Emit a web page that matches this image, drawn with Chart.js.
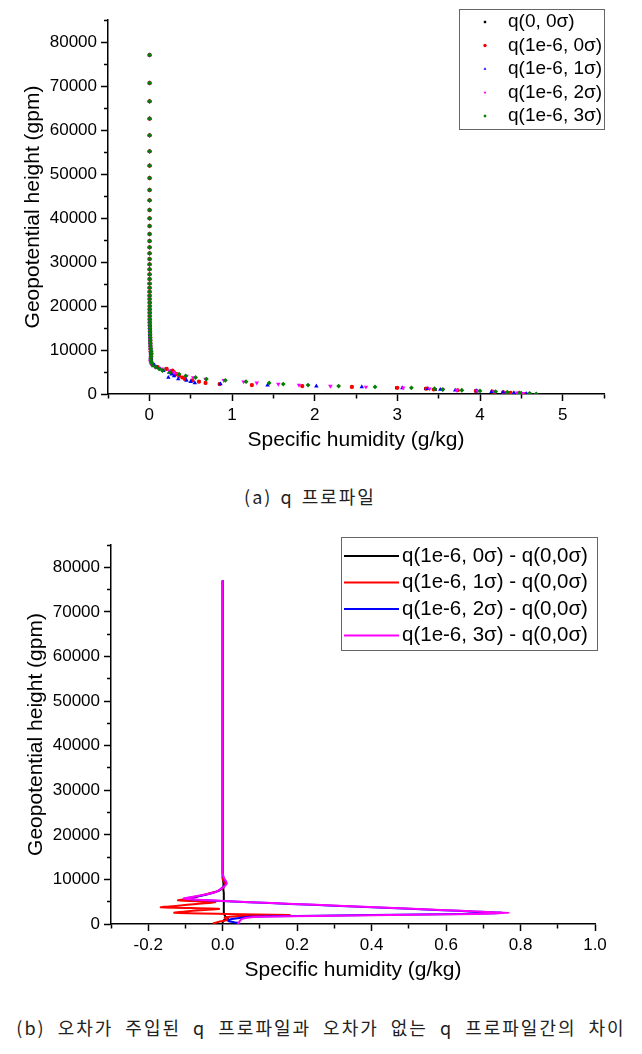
<!DOCTYPE html>
<html>
<head>
<meta charset="utf-8">
<script src="https://cdn.jsdelivr.net/npm/chart.js@4.4.1/dist/chart.umd.min.js"></script>
<style>
  body { margin: 0; background: #fff; }
  #page { position: relative; width: 642px; height: 1054px; overflow: hidden; background: #fff; }
  canvas { position: absolute; left: 0; }
  .cap { position: absolute; text-align: center; white-space: nowrap; color: #222;
         font-family: 'Noto Sans CJK KR', sans-serif; font-size: 18px; line-height: 20px; }
</style>
</head>
<body>
<div id="page">
  <canvas id="chartA" width="642" height="460" style="top:0;width:642px;height:460px"></canvas>
  <div class="cap" style="top:486px;left:0;width:620px;letter-spacing:2px;word-spacing:2px">(a) q 프로파일</div>
  <canvas id="chartB" width="642" height="460" style="top:530px;width:642px;height:460px"></canvas>
  <div class="cap" style="top:1017px;left:0;width:642px;letter-spacing:2px;word-spacing:6px">(b) 오차가 주입된 q 프로파일과 오차가 없는 q 프로파일간의 차이</div>
</div>
<script>
'use strict';

const FONT = "'Liberation Sans', Arial, sans-serif";

// geopotential height of each model level (gpm), top to bottom
const heights = [
  77050, 70680, 66520, 62570, 58800, 55160, 51890, 49090, 46360, 44020,
  41820, 39930, 38180, 36360, 34770, 33340, 31980, 30680, 29480, 28340,
  27210, 26140, 25100, 24150, 23250, 22400, 21600, 20800, 20000, 19250,
  18500, 17750, 17000, 16300, 15600, 14900, 14200, 13500, 12850, 12200,
  11550, 10900, 10300, 9700, 9100, 8550, 8000,
  7500, 7000, 6550, 6100, 5700, 5300, 4900, 4500, 4100, 3750,
  3400, 3100, 2800, 2520, 2260, 2020, 1800, 1600, 1400, 1200,
  1020, 850, 690, 540, 400, 270, 150, 40,
];

// (a) specific humidity profiles (g/kg)
const qRef = [
  0.003, 0.003, 0.003, 0.003, 0.003, 0.003, 0.003, 0.003, 0.003, 0.003,
  0.003, 0.003, 0.003, 0.003, 0.003, 0.003, 0.003, 0.003, 0.003, 0.003,
  0.003, 0.003, 0.003, 0.003, 0.003, 0.003, 0.003, 0.004, 0.004, 0.004,
  0.004, 0.004, 0.005, 0.005, 0.006, 0.007, 0.008, 0.009, 0.010, 0.011,
  0.012, 0.013, 0.014, 0.015, 0.016, 0.017, 0.018,
  0.02, 0.03, 0.05, 0.10, 0.20, 0.27, 0.30, 0.33, 0.36, 0.40,
  0.43, 0.52, 0.60, 0.68, 0.85, 1.24, 1.85, 2.45, 2.99, 3.34,
  3.46, 3.73, 3.95, 4.15, 4.28, 4.37, 4.47, 4.55,
];
const q0 = [
  0.003, 0.003, 0.003, 0.003, 0.003, 0.003, 0.003, 0.003, 0.003, 0.003,
  0.003, 0.003, 0.003, 0.003, 0.003, 0.003, 0.003, 0.003, 0.003, 0.003,
  0.003, 0.003, 0.003, 0.003, 0.003, 0.003, 0.003, 0.004, 0.004, 0.004,
  0.004, 0.004, 0.005, 0.005, 0.006, 0.007, 0.008, 0.009, 0.010, 0.011,
  0.012, 0.013, 0.014, 0.016, 0.018, 0.019, 0.020,
  0.02, 0.03, 0.05, 0.10, 0.21, 0.28, 0.30, 0.33, 0.36, 0.40,
  0.43, 0.52, 0.60, 0.68, 0.85, 1.24, 1.85, 2.45, 3.00, 3.35,
  3.44, 3.73, 3.95, 4.15, 4.28, 4.37, 4.47, 4.55,
];
const q1 = [
  0.003, 0.003, 0.003, 0.003, 0.003, 0.003, 0.003, 0.003, 0.003, 0.003,
  0.003, 0.003, 0.003, 0.003, 0.003, 0.003, 0.003, 0.003, 0.003, 0.003,
  0.003, 0.003, 0.003, 0.003, 0.003, 0.003, 0.003, 0.004, 0.004, 0.004,
  0.004, 0.004, 0.005, 0.005, 0.006, 0.007, 0.008, 0.009, 0.010, 0.011,
  0.012, 0.013, 0.014, 0.016, 0.018, 0.019, 0.020,
  0.02, 0.03, 0.06, 0.09, 0.13, 0.17, 0.24, 0.27, 0.30, 0.23,
  0.35, 0.45, 0.50, 0.55, 0.86, 1.43, 2.02, 2.57, 3.06, 3.37,
  3.52, 3.70, 3.96, 4.14, 4.28, 4.41, 4.50, 4.56,
];
const q2 = [
  0.003, 0.003, 0.003, 0.003, 0.003, 0.003, 0.003, 0.003, 0.003, 0.003,
  0.003, 0.003, 0.003, 0.003, 0.003, 0.003, 0.003, 0.003, 0.003, 0.003,
  0.003, 0.003, 0.003, 0.003, 0.003, 0.003, 0.003, 0.004, 0.004, 0.004,
  0.004, 0.004, 0.005, 0.005, 0.006, 0.007, 0.008, 0.009, 0.010, 0.011,
  0.012, 0.014, 0.017, 0.022, 0.026, 0.022, 0.016,
  0.01, 0.02, 0.03, 0.07, 0.15, 0.24, 0.30, 0.35, 0.45, 0.53,
  0.68, 0.90, 1.14, 1.30, 1.56, 1.81, 2.19, 2.62, 3.07, 3.39,
  3.55, 3.72, 3.97, 4.17, 4.32, 4.45, 4.52, 4.60,
];
const q3 = [
  0.003, 0.003, 0.003, 0.003, 0.003, 0.003, 0.003, 0.003, 0.003, 0.003,
  0.003, 0.003, 0.003, 0.003, 0.003, 0.003, 0.003, 0.003, 0.003, 0.003,
  0.003, 0.003, 0.003, 0.003, 0.003, 0.003, 0.003, 0.004, 0.004, 0.004,
  0.004, 0.004, 0.005, 0.005, 0.006, 0.007, 0.008, 0.009, 0.010, 0.011,
  0.012, 0.014, 0.017, 0.023, 0.027, 0.023, 0.016,
  0.02, 0.03, 0.04, 0.08, 0.12, 0.16, 0.25, 0.36, 0.44, 0.56,
  0.69, 0.92, 1.17, 1.45, 1.62, 1.92, 2.29, 2.73, 3.17, 3.45,
  3.55, 3.78, 4.00, 4.19, 4.33, 4.48, 4.60, 4.68,
];

// (b) perturbed minus reference profile (g/kg)
const d0 = [
  0, 0, 0, 0, 0, 0, 0, 0, 0, 0,
  0, 0, 0, 0, 0, 0, 0, 0, 0, 0,
  0, 0, 0, 0, 0, 0, 0, 0, 0, 0,
  0, 0, 0, 0, 0, 0, 0, 0, 0, 0,
  0, 0, 0, 0.001, 0.002, 0.002, 0.002,
  0.002, 0.003, 0.003, 0.003, 0.003, 0.003, 0.003, 0.003, 0.003, 0.003,
  0.003, 0.003, 0.003, 0.003, 0.004, 0.005, 0.006, 0.008, 0.015, 0.012,
  0.006, 0.003, 0.002, 0.001, 0, 0, 0, 0,
];
const d1 = [
  0, 0, 0, 0, 0, 0, 0, 0, 0, 0,
  0, 0, 0, 0, 0, 0, 0, 0, 0, 0,
  0, 0, 0, 0, 0, 0, 0, 0, 0, 0,
  0, 0, 0, 0, 0, 0, 0, 0, 0, 0,
  0, 0, 0, 0.002, 0.006, 0.004, 0,
  -0.01, -0.03, -0.05, -0.07, -0.09, -0.12, -0.02, -0.07, -0.12, -0.166,
  -0.01, -0.06, -0.10, -0.13, 0.006, 0.18, 0.06, 0.02, 0.005, 0.012,
  0.015, 0.01, 0, -0.008, -0.015, -0.02, -0.025, -0.025,
];
const d2 = [
  0, 0, 0, 0, 0, 0, 0, 0, 0, 0,
  0, 0, 0, 0, 0, 0, 0, 0, 0, 0,
  0, 0, 0, 0, 0, 0, 0, 0, 0, 0,
  0, 0, 0, 0, 0, 0, 0, 0, 0, 0,
  0, 0.001, 0.003, 0.007, 0.010, 0.005, -0.003,
  -0.01, -0.025, -0.045, -0.075, -0.10, -0.045, 0.07, 0.18, 0.30, 0.40,
  0.50, 0.59, 0.67, 0.75, 0.64, 0.40, 0.20, 0.07, 0.05, 0.03,
  0.02, 0.015, 0.015, 0.02, 0.03, 0.04, 0.045, 0.045,
];
const d3 = [
  0, 0, 0, 0, 0, 0, 0, 0, 0, 0,
  0, 0, 0, 0, 0, 0, 0, 0, 0, 0,
  0, 0, 0, 0, 0, 0, 0, 0, 0, 0,
  0, 0, 0, 0, 0, 0, 0, 0, 0, 0,
  0, 0.001, 0.003, 0.008, 0.011, 0.006, -0.003,
  -0.012, -0.025, -0.05, -0.08, -0.105, -0.04, 0.075, 0.19, 0.31, 0.41,
  0.51, 0.60, 0.68, 0.77, 0.68, 0.45, 0.25, 0.10, 0.065, 0.055,
  0.05, 0.048, 0.046, 0.045, 0.044, 0.043, 0.042, 0.04,
];

const labelsA = ['q(0, 0σ)', 'q(1e-6, 0σ)', 'q(1e-6, 1σ)', 'q(1e-6, 2σ)', 'q(1e-6, 3σ)'];
const labelsB = ['q(1e-6, 0σ) - q(0,0σ)', 'q(1e-6, 1σ) - q(0,0σ)', 'q(1e-6, 2σ) - q(0,0σ)', 'q(1e-6, 3σ) - q(0,0σ)'];

// tick labels that are printed
const heightLabels = [0, 10000, 20000, 30000, 40000, 50000, 60000, 70000, 80000];
const qLabelsA = [0, 1, 2, 3, 4, 5];
const qLabelsB = [-0.2, 0.0, 0.2, 0.4, 0.6, 0.8, 1.0];

const colorsA = ['#000000', '#ff0000', '#0000ff', '#ff00ff', '#008000'];
const colorsB = ['#000000', '#ff0000', '#0000ff', '#ff00ff'];
const stylesA = ['rect', 'circle', 'triangle', 'triangle', 'rectRot'];
const rotA = [0, 0, 0, 180, 0];
const radA = [2, 2.1, 2.6, 2.6, 2.4];

const isLabel = (list, v) => list.some(t => Math.abs(t - v) < 1e-6);

// legend drawn as a framed box inside the plot, like the original
const boxLegend = {
  id: 'boxLegend',
  afterDraw(chart, args, o) {
    const { ctx } = chart;
    ctx.save();
    ctx.strokeStyle = '#666';
    ctx.lineWidth = 1;
    ctx.strokeRect(o.x + 0.5, o.y + 0.5, o.w, o.h);
    ctx.font = o.font;
    ctx.textBaseline = 'middle';
    ctx.textAlign = 'left';
    chart.data.datasets.forEach((ds, i) => {
      const y = o.y + o.first + i * o.step;
      if (o.lines) {
        ctx.strokeStyle = ds.borderColor;
        ctx.lineWidth = 2;
        ctx.beginPath();
        ctx.moveTo(o.x + 3, y);
        ctx.lineTo(o.x + 3 + o.lineLen, y);
        ctx.stroke();
      } else {
        ctx.fillStyle = ds.backgroundColor;
        Chart.helpers.drawPoint(ctx, {
          pointStyle: ds.pointStyle, rotation: ds.pointRotation, radius: 1.7, borderWidth: 0,
        }, o.markX, y);
      }
      ctx.fillStyle = '#000';
      ctx.fillText(ds.label, o.textX, y);
    });
    ctx.restore();
  },
};

function heightAxis(width, titlePad) {
  return {
    type: 'linear', position: 'left', min: 0, max: 85000,
    afterFit: s => { s.width = width; },
    ticks: {
      stepSize: 5000, autoSkip: false, padding: 4, color: '#000',
      font: { family: FONT, size: 17 },
      callback: v => isLabel(heightLabels, v) ? String(v) : '',
    },
    grid: {
      drawOnChartArea: false, drawTicks: true, tickLength: 7, tickWidth: 1.5, tickColor: '#000',
      tickBorderDash: c => (c.tick && !isLabel(heightLabels, c.tick.value)) ? [0, 3, 4, 100] : [],
    },
    border: { display: true, color: '#000', width: 1.5 },
    title: {
      display: true, text: 'Geopotential height (gpm)', color: '#000',
      font: { family: FONT, size: 21 }, padding: { top: titlePad, bottom: 0 },
    },
  };
}

function humidityAxis(min, max, step, labels, fmt) {
  return {
    type: 'linear', position: 'bottom', min, max,
    afterFit: s => { s.height = 66; },
    ticks: {
      stepSize: step, autoSkip: false, maxRotation: 0, padding: 4, color: '#000',
      font: { family: FONT, size: 17 },
      callback: v => isLabel(labels, v) ? fmt(v) : '',
    },
    grid: {
      drawOnChartArea: false, drawTicks: true, tickLength: 7, tickWidth: 1.5, tickColor: '#000',
      tickBorderDash: c => (c.tick && !isLabel(labels, c.tick.value)) ? [4, 100] : [],
    },
    border: { display: true, color: '#000', width: 1.5 },
    title: {
      display: true, text: 'Specific humidity (g/kg)', color: '#000',
      font: { family: FONT, size: 21 }, padding: { top: 0, bottom: 7 },
    },
  };
}

const seriesA = [qRef, q0, q1, q2, q3];
new Chart(document.getElementById('chartA'), {
  type: 'scatter',
  data: {
    datasets: seriesA.map((qs, i) => ({
      label: labelsA[i],
      data: heights.map((h, k) => ({ x: qs[k], y: h })),
      backgroundColor: colorsA[i], borderColor: colorsA[i],
      pointStyle: stylesA[i], pointRotation: rotA[i], pointRadius: radA[i], borderWidth: 0,
      order: seriesA.length - i,
    })),
  },
  options: {
    responsive: false, animation: false, events: [],
    layout: { padding: { top: 20, right: 38, bottom: 0, left: 0 } },
    scales: {
      x: humidityAxis(-0.5, 5.5, 0.5, qLabelsA, v => String(Math.round(v))),
      y: heightAxis(108, 21),
    },
    plugins: {
      legend: { display: false }, tooltip: { enabled: false },
      boxLegend: { x: 459, y: 9, w: 145, h: 120, first: 13, step: 23.5, markX: 485, textX: 508,
                   font: "19px 'Liberation Sans', Arial, sans-serif" },
    },
  },
  plugins: [boxLegend],
});

const seriesB = [d0, d1, d2, d3];
new Chart(document.getElementById('chartB'), {
  type: 'scatter',
  data: {
    datasets: seriesB.map((ds, i) => ({
      label: labelsB[i],
      data: heights.map((h, k) => ({ x: ds[k], y: h })),
      showLine: true, borderColor: colorsB[i], backgroundColor: colorsB[i],
      borderWidth: 2, pointRadius: 0, tension: 0.2,
      order: seriesB.length - i,
    })),
  },
  options: {
    responsive: false, animation: false, events: [],
    layout: { padding: { top: 15, right: 47, bottom: 0, left: 0 } },
    scales: {
      x: humidityAxis(-0.3, 1.0, 0.1, qLabelsB, v => (Math.abs(v) < 1e-9 ? 0 : v).toFixed(1)),
      y: heightAxis(111, 24),
    },
    plugins: {
      legend: { display: false }, tooltip: { enabled: false },
      boxLegend: { lines: true, x: 341, y: 7, w: 256, h: 113, first: 19, step: 26.5, lineLen: 55, textX: 402,
                   font: "20.5px 'Liberation Sans', Arial, sans-serif" },
    },
  },
  plugins: [boxLegend],
});
</script>
</body>
</html>
